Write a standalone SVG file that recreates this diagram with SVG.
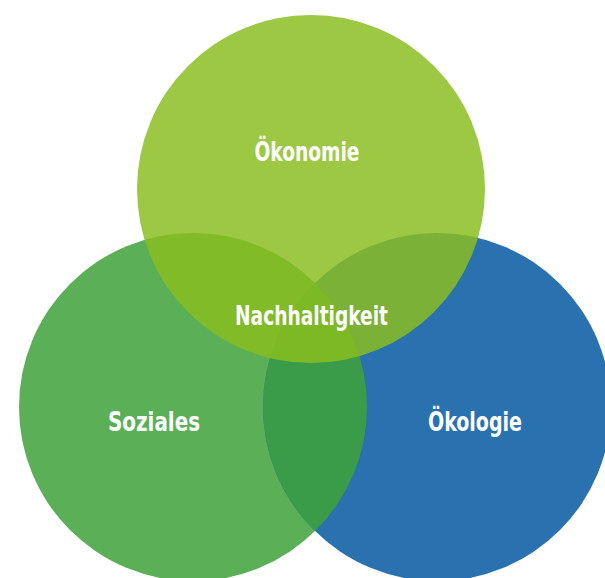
<svg xmlns="http://www.w3.org/2000/svg" width="605" height="578" viewBox="0 0 605 578">
  <style>
    .lbl { font-family: "Liberation Sans Narrow", "DejaVu Sans Condensed", "Liberation Sans", sans-serif; font-stretch: condensed; font-weight: bold; font-size: 27px; fill: #ffffff; text-anchor: middle; }
  </style>
  <defs>
    <clipPath id="clipLeft"><circle cx="193" cy="407" r="174"/></clipPath>
  </defs>
  <rect width="605" height="578" fill="#ffffff"/>
  <g id="soziales">
    <circle cx="193" cy="407" r="174" fill="#5AAF57"/>
  </g>
  <g id="oekologie">
    <circle cx="437" cy="407" r="174" fill="#2A71AF"/>
    <circle cx="437" cy="407" r="174" fill="#3A9C48" clip-path="url(#clipLeft)"/>
  </g>
  <g id="oekonomie">
    <circle cx="311" cy="189" r="174" fill="#8ABD1F" fill-opacity="0.84"/>
  </g>
  <g id="labels">
    <text class="lbl" x="307" y="161" textLength="105" lengthAdjust="spacingAndGlyphs">Ökonomie</text>
    <text class="lbl" x="311.5" y="325" textLength="153" lengthAdjust="spacingAndGlyphs">Nachhaltigkeit</text>
    <text class="lbl" x="154" y="431" textLength="92" lengthAdjust="spacingAndGlyphs">Soziales</text>
    <text class="lbl" x="475" y="431" textLength="94" lengthAdjust="spacingAndGlyphs">Ökologie</text>
  </g>
  <g id="connectors"/>
</svg>
